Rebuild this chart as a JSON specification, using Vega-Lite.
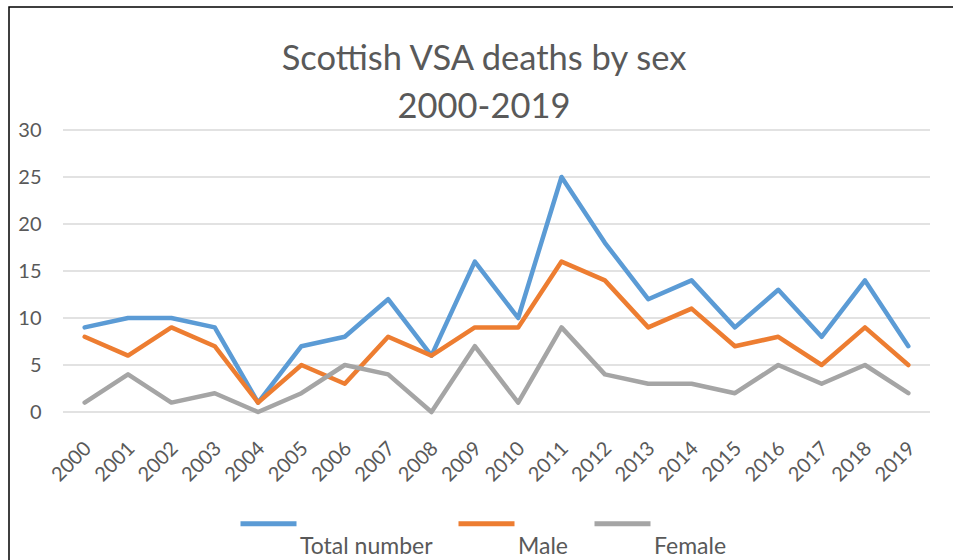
{
  "$schema": "https://vega.github.io/schema/vega-lite/v6.json",
  "width": 950,
  "height": 560,
  "autosize": {"type": "none"},
  "padding": {"left": 9, "top": 7, "right": -6, "bottom": -7},
  "background": "white",
  "config": {
    "view": {"stroke": "#000000", "strokeWidth": 1.5},
    "font": "Lato",
    "axis": {"labelColor": "#595959", "labelFont": "Lato", "labelFontSize": 20, "domain": false, "ticks": false, "tickSize": 0, "grid": false, "title": null}
  },
  "title": {
    "text": ["Scottish VSA deaths by sex", "2000-2019"],
    "frame": "group",
    "anchor": "middle",
    "baseline": "top",
    "orient": "top",
    "offset": -118,
    "fontSize": 34.5,
    "fontWeight": "normal",
    "font": "Lato",
    "color": "#595959",
    "lineHeight": 48
  },
  "datasets": {
    "deaths": [
      {"year": 2000, "Total number": 9, "Male": 8, "Female": 1},
      {"year": 2001, "Total number": 10, "Male": 6, "Female": 4},
      {"year": 2002, "Total number": 10, "Male": 9, "Female": 1},
      {"year": 2003, "Total number": 9, "Male": 7, "Female": 2},
      {"year": 2004, "Total number": 1, "Male": 1, "Female": 0},
      {"year": 2005, "Total number": 7, "Male": 5, "Female": 2},
      {"year": 2006, "Total number": 8, "Male": 3, "Female": 5},
      {"year": 2007, "Total number": 12, "Male": 8, "Female": 4},
      {"year": 2008, "Total number": 6, "Male": 6, "Female": 0},
      {"year": 2009, "Total number": 16, "Male": 9, "Female": 7},
      {"year": 2010, "Total number": 10, "Male": 9, "Female": 1},
      {"year": 2011, "Total number": 25, "Male": 16, "Female": 9},
      {"year": 2012, "Total number": 18, "Male": 14, "Female": 4},
      {"year": 2013, "Total number": 12, "Male": 9, "Female": 3},
      {"year": 2014, "Total number": 14, "Male": 11, "Female": 3},
      {"year": 2015, "Total number": 9, "Male": 7, "Female": 2},
      {"year": 2016, "Total number": 13, "Male": 8, "Female": 5},
      {"year": 2017, "Total number": 8, "Male": 5, "Female": 3},
      {"year": 2018, "Total number": 14, "Male": 9, "Female": 5},
      {"year": 2019, "Total number": 7, "Male": 5, "Female": 2}
    ],
    "grid": [{"value": 0}, {"value": 5}, {"value": 10}, {"value": 15}, {"value": 20}, {"value": 25}, {"value": 30}]
  },
  "layer": [
    {
      "data": {"name": "grid"},
      "mark": {"type": "rule", "color": "#d9d9d9", "strokeWidth": 1.5},
      "encoding": {
        "x": {"datum": 1999.5, "type": "quantitative"},
        "x2": {"datum": 2019.5},
        "y": {"field": "value", "type": "quantitative"}
      }
    },
    {
      "data": {"name": "deaths"},
      "transform": [{"fold": ["Total number", "Male", "Female"], "as": ["series", "deaths"]}],
      "mark": {"type": "line", "strokeWidth": 4.5, "strokeCap": "round", "strokeJoin": "round"},
      "encoding": {
        "x": {
          "field": "year",
          "type": "quantitative",
          "scale": {"domain": [1999.5, 2019.5], "range": [54, 921], "nice": false, "zero": false},
          "axis": {
            "orient": "bottom",
            "offset": -148,
            "values": [2000, 2001, 2002, 2003, 2004, 2005, 2006, 2007, 2008, 2009, 2010, 2011, 2012, 2013, 2014, 2015, 2016, 2017, 2018, 2019],
            "format": "d",
            "labelAngle": -45,
            "labelPadding": 19,
            "labelOffset": -4,
            "labelOverlap": false,
            "labelFlush": false
          }
        },
        "y": {
          "field": "deaths",
          "type": "quantitative",
          "scale": {"domain": [0, 30], "range": [405, 123], "nice": false},
          "axis": {
            "orient": "left",
            "offset": -54,
            "values": [0, 5, 10, 15, 20, 25, 30],
            "labelPadding": 22
          }
        },
        "color": {
          "field": "series",
          "type": "nominal",
          "scale": {"domain": ["Total number", "Male", "Female"], "range": ["#5b9bd5", "#ed7d31", "#a5a5a5"]},
          "legend": {
            "title": null,
            "orient": "none",
            "direction": "horizontal",
            "legendX": 229,
            "legendY": 486,
            "symbolType": "stroke",
            "symbolSize": 3136,
            "symbolStrokeWidth": 5,
            "labelFontSize": 23,
            "labelFont": "Lato",
            "labelColor": "#595959",
            "labelOffset": 1,
            "columnPadding": 15,
            "padding": 0,
            "encode": {"labels": {"update": {"dy": {"value": 23}}}}
          }
        }
      }
    }
  ]
}
